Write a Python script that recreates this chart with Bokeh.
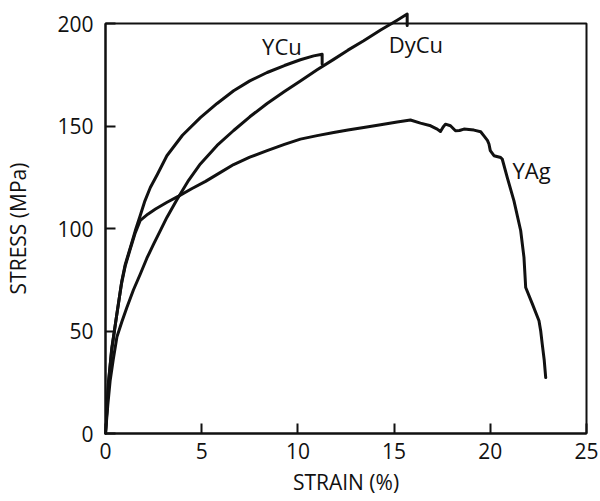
from bokeh.plotting import figure
from bokeh.models import Label, FixedTicker, Range1d
from bokeh.embed import file_html
from bokeh.resources import INLINE

# ---- data (strain %, stress MPa) ----
ycu_strain = [0, 0.08, 0.16, 0.33, 0.59, 0.85, 1.03, 1.29, 1.55, 1.81, 2.05, 2.33, 2.7,
              3.19, 4.0, 4.93, 5.8, 6.66, 7.5, 8.40, 9.3, 10.13, 10.82, 11.26, 11.26]
ycu_stress = [0, 13, 25.7, 42, 58.2, 74.5, 82.6, 90.7, 99, 106.5, 113.5, 120, 126.5,
              135.5, 145.5, 154.1, 161, 167.2, 172, 176.1, 179.5, 182.3, 184.2, 185, 180.2]

dycu_strain = [0, 0.12, 0.24, 0.4, 0.59, 0.85, 1.11, 1.45, 1.81, 2.15, 2.50, 2.85, 3.19,
               3.71, 4.32, 4.93, 5.8, 6.66, 7.5, 8.40, 9.3, 10.13, 11.0, 11.86, 12.6,
               13.42, 14.3, 15.16, 15.68, 15.68]
dycu_stress = [0, 14, 25.7, 36, 47, 54.5, 61.5, 70, 77.8, 85.5, 92.4, 99, 105.4,
               114, 123.5, 131.5, 140.5, 147.8, 154.5, 161, 166.8, 172, 177.4, 182.5, 187,
               191.6, 196.8, 201.6, 204.6, 199]

yag_strain = [0, 0.08, 0.15, 0.32, 0.57, 0.83, 1.02, 1.27, 1.55, 1.81, 2.2, 2.6, 3.2,
              3.8, 4.5, 5.2, 6.0, 6.66, 7.5, 8.40, 9.3, 10.13, 11.0, 11.86, 12.6,
              13.42, 14.3, 15.16, 15.85, 16.37, 16.9, 17.24, 17.41, 17.55, 17.67,
              17.93, 18.19, 18.4, 18.63, 19.15, 19.5, 19.67, 19.85, 19.93, 20.0,
              20.19, 20.54, 20.62, 20.88, 21.23, 21.58, 21.75, 21.84, 22.19,
              22.53, 22.62, 22.7, 22.8, 22.88]
yag_stress = [0, 12, 24, 40.5, 57, 73, 81.5, 89.5, 98, 104, 107, 109.5, 112.8,
              115.8, 119.5, 123, 127.5, 131.2, 134.8, 138, 141, 143.6, 145.3, 146.8, 148,
              149.3, 150.6, 152, 152.9, 151.4, 150.1, 148.5, 147.3, 149.5, 150.9,
              150.1, 147.7, 147.8, 148.5, 148.0, 147.2, 145.2, 143, 141.2, 138,
              135.5, 134.6, 133.9, 124.9, 113.5, 98.9, 85.9, 71.2, 63.1,
              55.0, 50, 43.6, 36, 27.3]

x_ticks = [0, 5, 10, 15, 20, 25]
y_ticks = [0, 50, 100, 150, 200]

INK = "#111111"
FONT = "Open Sans"

p = figure(width=600, height=501, output_backend="svg", toolbar_location=None,
           x_range=Range1d(0, 25), y_range=Range1d(0, 200),
           min_border_left=105, min_border_right=14, min_border_top=23,
           min_border_bottom=68)
p.background_fill_color = "white"
p.border_fill_color = "white"
p.grid.visible = False
p.outline_line_color = INK
p.outline_line_width = 2

for ax in (p.xaxis[0], p.yaxis[0]):
    ax.axis_line_color = INK
    ax.axis_line_width = 2
    ax.major_tick_line_color = INK
    ax.major_tick_line_width = 2
    ax.major_tick_in = 10
    ax.major_tick_out = 0
    ax.minor_tick_line_color = None
    ax.major_label_text_font = FONT
    ax.major_label_text_font_size = "21px"
    ax.major_label_text_color = INK
    ax.axis_label_text_font = FONT
    ax.axis_label_text_font_size = "21px"
    ax.axis_label_text_font_style = "normal"
    ax.axis_label_text_color = INK

p.xaxis.ticker = FixedTicker(ticks=x_ticks)
p.yaxis.ticker = FixedTicker(ticks=y_ticks)
p.xaxis.axis_label = "STRAIN (%)"
p.yaxis.axis_label = "STRESS (MPa)"
p.xaxis.major_label_standoff = 9
p.yaxis.major_label_standoff = 12
p.xaxis.axis_label_standoff = 6
p.yaxis.axis_label_standoff = 22

kw = dict(line_color=INK, line_width=3, line_join="round", line_cap="round")
p.line(ycu_strain, ycu_stress, **kw)
p.line(yag_strain, yag_stress, **kw)
r = p.line(dycu_strain, dycu_stress, **kw)
r.level = "overlay"

for txt, x, y in [("YCu", 8.14, 189.0), ("DyCu", 14.72, 189.8), ("YAg", 21.15, 128.6)]:
    p.add_layout(Label(x=x, y=y, text=txt, text_font=FONT, text_font_size="22px",
                       text_color=INK, text_align="left", text_baseline="alphabetic"))

open("out.html", "w").write(file_html(p, INLINE))
